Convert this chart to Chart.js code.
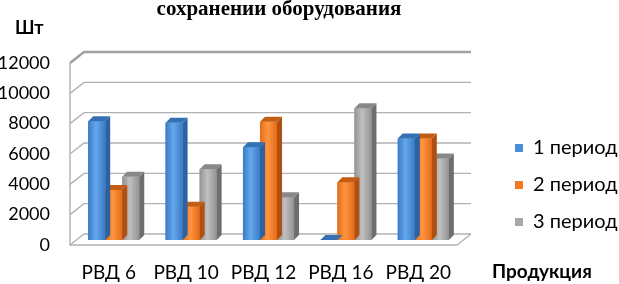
<!DOCTYPE html>
<html>
<head>
<meta charset="utf-8">
<script src="https://cdn.jsdelivr.net/npm/chart.js@4.4.1/dist/chart.umd.min.js"></script>
<style>
  html, body { margin: 0; padding: 0; background: #fff; }
</style>
</head>
<body>
<canvas id="myCanvas" width="619" height="284"></canvas>
<script>
const categories = ["РВД 6", "РВД 10", "РВД 12", "РВД 16", "РВД 20"];
const seriesLabels = ["1 период", "2 период", "3 период"];
const period1 = [7830, 7730, 6110, 0, 6700];
const period2 = [3300, 2200, 7800, 3800, 6700];
const period3 = [4170, 4660, 2820, 8680, 5380];
const yTicks = [0, 2000, 4000, 6000, 8000, 10000, 12000];

const colors = ["#4a8fd9", "#f27b22", "#a8a8a8"];
const frontShades = [["#3a7bc3", "#64a8ee"], ["#e46c16", "#ff9442"], ["#939393", "#c0c0c0"]];
const sideShades = ["#2b62a3", "#b04f0e", "#6e6e6e"];
const topShades = ["#3470b4", "#c45d14", "#888888"];

// depth of the walls and of the bars (pseudo 3D)
const depthX = 14, depthY = -11;
const shiftX = 5, shiftY = -5;
const sideX = 5, sideY = -5;

const chart3d = {
  id: "chart3d",
  beforeDatasetsDraw(chart) {
    const { ctx, chartArea: a, scales: { y } } = chart;
    ctx.save();
    yTicks.forEach((v) => {
      const py = y.getPixelForValue(v);
      const isTop = v === yTicks[yTicks.length - 1];
      ctx.lineWidth = isTop ? 2.5 : 1.4;
      ctx.strokeStyle = isTop ? "#a0a0a0" : "#b2b2b2";
      ctx.beginPath();
      ctx.moveTo(a.left, py);
      ctx.lineTo(a.left + depthX, py + depthY);
      ctx.lineTo(a.right + depthX, py + depthY);
      ctx.stroke();
    });
    ctx.lineWidth = 1.4;
    ctx.strokeStyle = "#b2b2b2";
    ctx.beginPath();
    ctx.moveTo(a.left, a.top);
    ctx.lineTo(a.left, a.bottom);
    ctx.lineTo(a.right, a.bottom);
    ctx.lineTo(a.right + depthX, a.bottom + depthY);
    ctx.stroke();
    ctx.restore();

    ctx.save();
    ctx.translate(shiftX, shiftY);
  },
  afterDatasetDraw(chart, args) {
    const ctx = chart.ctx;
    const i = args.index;
    args.meta.data.forEach((bar) => {
      const { x, y, base, width } = bar.getProps(["x", "y", "base", "width"], true);
      const l = x - width / 2, r = x + width / 2;
      const g = ctx.createLinearGradient(l, 0, r, 0);
      g.addColorStop(0, frontShades[i][0]);
      g.addColorStop(0.45, frontShades[i][1]);
      g.addColorStop(1, frontShades[i][0]);
      ctx.fillStyle = g;
      ctx.fillRect(l, y, width, base - y);

      ctx.fillStyle = sideShades[i];
      ctx.beginPath();
      ctx.moveTo(r, base);
      ctx.lineTo(r, y);
      ctx.lineTo(r + sideX, y + sideY);
      ctx.lineTo(r + sideX, base + sideY);
      ctx.closePath();
      ctx.fill();

      ctx.fillStyle = topShades[i];
      ctx.beginPath();
      ctx.moveTo(l, y);
      ctx.lineTo(r, y);
      ctx.lineTo(r + sideX, y + sideY);
      ctx.lineTo(l + sideX, y + sideY);
      ctx.closePath();
      ctx.fill();
    });
  },
  afterDatasetsDraw(chart) {
    chart.ctx.restore();
  },
  afterDraw(chart) {
    const ctx = chart.ctx;
    ctx.save();
    ctx.fillStyle = "#000";
    ctx.textBaseline = "alphabetic";
    ctx.textAlign = "center";
    ctx.font = "bold 21px 'Liberation Serif'";
    ctx.fillText("сохранении оборудования", 279, 15);

    ctx.textAlign = "left";
    ctx.textBaseline = "middle";
    ctx.font = "bold 18px Lato";
    ctx.fillText("Шт", 15, 28);
    ctx.font = "bold 19px Lato";
    ctx.fillText("Продукция", 492, 272);
    ctx.restore();
  },
};

new Chart(document.getElementById("myCanvas"), {
  type: "bar",
  data: {
    labels: categories,
    datasets: [
      { label: seriesLabels[0], data: period1, backgroundColor: colors[0] },
      { label: seriesLabels[1], data: period2, backgroundColor: colors[1] },
      { label: seriesLabels[2], data: period3, backgroundColor: colors[2] },
    ],
  },
  options: {
    responsive: false,
    animation: false,
    clip: false,
    layout: { padding: { top: 63, bottom: 0, left: 0, right: 0 } },
    datasets: { bar: { categoryPercentage: 0.66, barPercentage: 1 } },
    scales: {
      x: {
        afterFit: (scale) => {
          scale.height = 39;
        },
        grid: { display: false, drawTicks: false },
        border: { display: false },
        ticks: {
          color: "#000",
          padding: 16,
          maxRotation: 0,
          minRotation: 0,
          autoSkip: false,
          font: { family: "Lato", size: 19 },
        },
      },
      y: {
        min: 0,
        max: 12000,
        afterBuildTicks: (scale) => {
          scale.ticks = yTicks.map((v) => ({ value: v }));
        },
        afterFit: (scale) => {
          scale.width = 70;
        },
        grid: { display: false, drawTicks: false },
        border: { display: false },
        ticks: {
          color: "#000",
          padding: 20,
          font: { family: "Lato", size: 18 },
          callback: (v) => String(v),
        },
      },
      yPad: {
        position: "right",
        display: true,
        grid: { display: false, drawTicks: false },
        border: { display: false },
        ticks: { display: false },
        afterFit: (scale) => {
          scale.width = 41;
        },
      },
    },
    plugins: {
      tooltip: { enabled: false },
      legend: {
        position: "right",
        align: "start",
        maxWidth: 121,
        title: { display: true, text: "", padding: 20, font: { size: 15 } },
        labels: {
          boxWidth: 8,
          boxHeight: 8,
          padding: 17,
          color: "#000",
          font: { family: "Lato", size: 20 },
        },
      },
    },
  },
  plugins: [chart3d],
});
</script>
</body>
</html>
